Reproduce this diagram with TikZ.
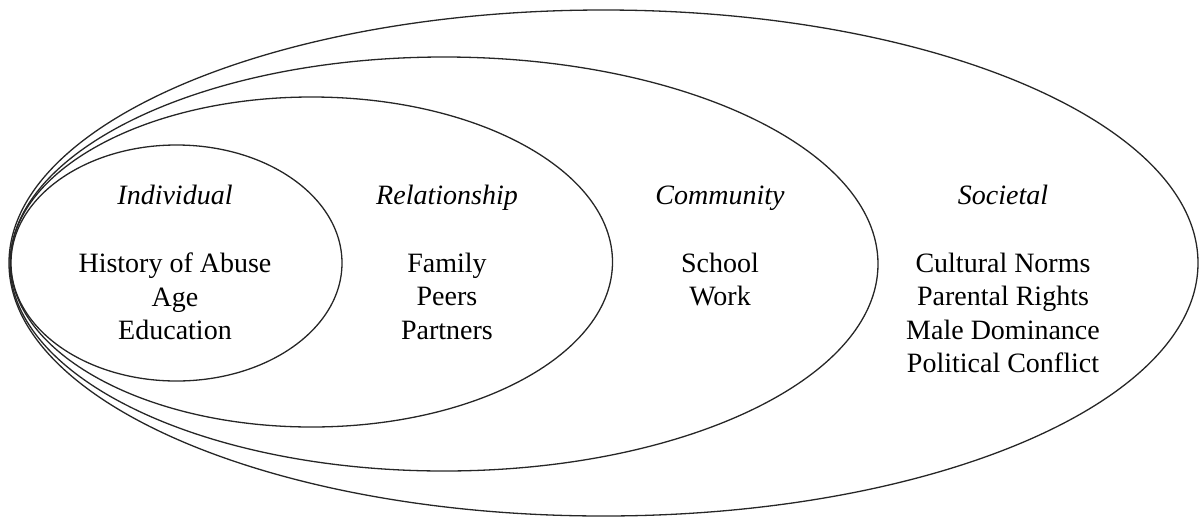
\documentclass[tikz,border=0pt]{standalone}
\usepackage{fontspec}
\setmainfont{Liberation Serif}
\begin{document}
\begin{tikzpicture}[x=1pt,y=-1pt,
  ring/.style={draw=black!85,line width=1.3pt},
  title/.style={font=\fontsize{28}{33}\selectfont\itshape,anchor=base,inner sep=0pt},
  items/.style={font=\fontsize{28}{33.3}\selectfont,align=center,anchor=north,inner sep=0pt}]
\useasboundingbox (0,0) rectangle (1203,523);
\draw[ring] (603.5,263) ellipse [x radius=594.5pt, y radius=253pt];
\draw[ring] (444,264) ellipse [x radius=434pt, y radius=207pt];
\draw[ring] (311.5,262) ellipse [x radius=301pt, y radius=165pt];
\draw[ring] (176.5,263) ellipse [x radius=165.5pt, y radius=118pt];
\node[title] (tind) at (175,204) {Individual};
\node[title] (trel) at (447,204) {Relationship};
\node[title] (tcom) at (720,204) {Community};
\node[title] (tsoc) at (1003,204) {Societal};
\node[items] (iind) at (175,253) {History of Abuse\\Age\\Education};
\node[items] (irel) at (447,253) {Family\\Peers\\Partners};
\node[items] (icom) at (720,253) {School\\Work};
\node[items] (isoc) at (1003,253) {Cultural Norms\\Parental Rights\\Male Dominance\\Political Conflict};
\end{tikzpicture}
\end{document}
